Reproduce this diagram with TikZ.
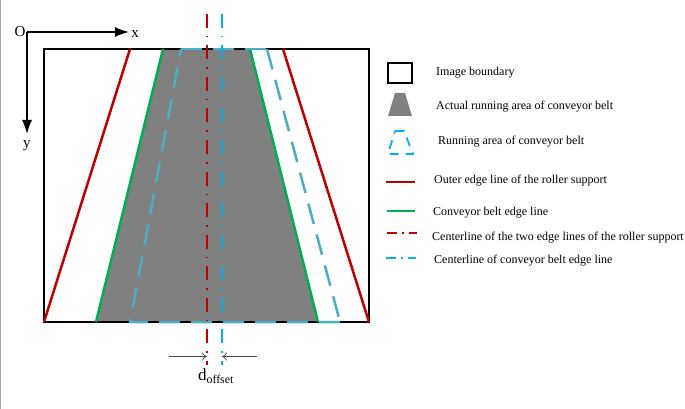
\documentclass[tikz,border=0pt]{standalone}
\usepackage{fontspec}
\setmainfont{Liberation Serif}
\usetikzlibrary{arrows.meta}
\definecolor{rollerred}{HTML}{C00000}
\definecolor{beltgreen}{HTML}{00B050}
\definecolor{beltblue}{HTML}{4BACC6}
\definecolor{centerblue}{HTML}{00B0F0}
\definecolor{areagray}{HTML}{808080}

\begin{document}
\begin{tikzpicture}[x=1pt, y=-1pt,
			boundary/.style={draw=black, line width=2pt},
			area/.style={fill=areagray},
			roller/.style={draw=rollerred, line width=2.5pt},
			belt/.style={draw=beltgreen, line width=2.5pt},
			running/.style={draw=beltblue, line width=2.5pt, dash pattern=on 21pt off 11pt},
			runkey/.style={draw=centerblue, line width=1.8pt, dash pattern=on 9pt off 7pt},
			redcenter/.style={draw=rollerred, line width=1.7pt, dash pattern=on 14pt off 8pt on 1.5pt off 8pt},
			bluecenter/.style={draw=centerblue, line width=1.7pt, dash pattern=on 14pt off 8pt on 1.5pt off 8pt},
			redkey/.style={draw=rollerred, line width=1.4pt, dash pattern=on 10pt off 5pt on 1.5pt off 5pt},
			bluekey/.style={draw=centerblue, line width=1.4pt, dash pattern=on 10pt off 5pt on 1.5pt off 5pt},
			axis/.style={draw=black, line width=1.5pt, -{Latex[length=14pt,width=10pt]}},
			offset/.style={draw=black!70, line width=0.8pt, -{To[length=5pt,width=8pt]}},
			label/.style={inner sep=0pt, anchor=west, font=\fontsize{12}{14}\selectfont},
			axislabel/.style={inner sep=0pt, font=\fontsize{15}{17}\selectfont}]
			\useasboundingbox (0, 0) rectangle (685, 409);
			\fill[black!35] (0, 0) rectangle (1.2, 409);
			
			% image boundary corners and edge lines
			\coordinate (tl) at (44, 49);
			\coordinate (tr) at (369, 49);
			\coordinate (bl) at (44, 322);
			\coordinate (br) at (369, 322);
			\coordinate (r1) at (130, 49);
			\coordinate (r2) at (283, 49);
			\coordinate (g1) at (163, 49);
			\coordinate (g2) at (250, 49);
			\coordinate (g3) at (318, 322);
			\coordinate (g4) at (96, 322);
			\coordinate (b1) at (181, 49);
			\coordinate (b2) at (267, 49);
			\coordinate (b3) at (340, 322);
			\coordinate (b4) at (130, 322);
			
			\path[area] (g1) -- (g2) -- (g3) -- (g4) -- cycle;
			\path[boundary] (tl) -- (tr) -- (br) -- (bl) -- cycle;
			\path[roller] 	(r1)  edge   (bl);
			\path[roller] 	(r2)  edge   (br);
			\path[belt] 	(g1)  edge   (g4);
			\path[belt] 	(g2)  edge   (g3);
			\path[running] 	(b1)  edge   (b2);
			\path[running] 	(b2)  edge   (b3);
			\path[running] 	(b3) -- (b4) -- (b1);
			
			% centerlines
			\coordinate (c1) at (207, 14);
			\coordinate (c2) at (207, 365);
			\coordinate (c3) at (222, 14);
			\coordinate (c4) at (222, 365);
			\path[redcenter] 	(c1)  edge   (c2);
			\path[bluecenter] 	(c3)  edge   (c4);
			
			% coordinate axes
			\node[axislabel] (o) at (20, 32) {O};
			\node[axislabel] (x) at (135, 34) {x};
			\node[axislabel] (y) at (27, 146) {y};
			\coordinate (org) at (27, 32);
			\coordinate (xe) at (129, 32);
			\coordinate (ye) at (27, 134);
			\path (org)  edge[axis]   (xe);
			\path (org)  edge[axis]   (ye);
			
			% offset
			\coordinate (d1) at (169, 356.5);
			\coordinate (d2) at (207, 356.5);
			\coordinate (d3) at (257, 356.5);
			\coordinate (d4) at (222, 356.5);
			\path (d1)  edge[offset]   (d2);
			\path (d3)  edge[offset]   (d4);
			\node[axislabel] (doff) at (216, 376) {\fontsize{17}{19}\selectfont d\textsubscript{offset}};
			
			% legend
			\node[label] (l1) at (436, 72.5) {Image boundary};
			\node[label] (l2) at (436, 106.5) {Actual running area of conveyor belt};
			\node[label] (l3) at (438, 141.5) {Running area of conveyor belt};
			\node[label] (l4) at (434, 180.5) {Outer edge line of the roller support};
			\node[label] (l5) at (433, 212.5) {Conveyor belt edge line};
			\node[label] (l6) at (432, 237.5) {Centerline of the two edge lines of the roller support};
			\node[label] (l7) at (434, 260.5) {Centerline of conveyor belt edge line};
			
			\draw[boundary] (388, 63) rectangle (412, 83);
			\path[area] (395, 93) -- (405, 93) -- (412, 116) -- (388, 116) -- cycle;
			\path[runkey] (395, 131) -- (404, 131) -- (413, 154) -- (388, 154) -- cycle;
			\coordinate (k1) at (386, 182);
			\coordinate (k2) at (415, 182);
			\coordinate (k3) at (387, 211);
			\coordinate (k4) at (415, 211);
			\coordinate (k5) at (387, 233);
			\coordinate (k6) at (417, 233);
			\coordinate (k7) at (386, 258);
			\coordinate (k8) at (416, 258);
			\path[roller] 	(k1)  edge   (k2);
			\path[belt] 	(k3)  edge   (k4);
			\path (k5)  edge[redkey]   (k6);
			\path (k7)  edge[bluekey]   (k8);
			\end{tikzpicture}
\end{document}
